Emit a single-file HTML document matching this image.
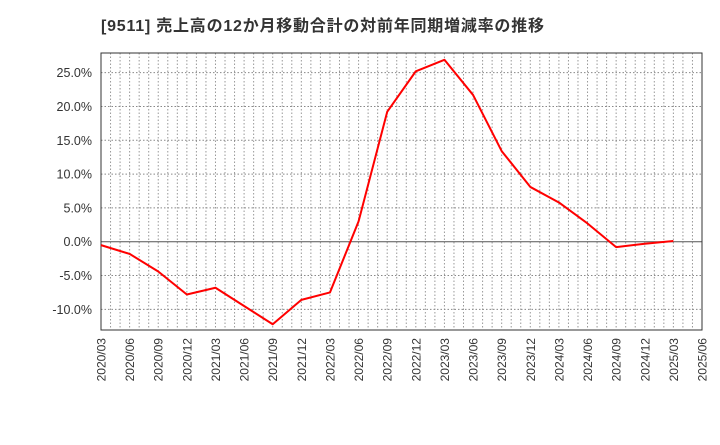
<!DOCTYPE html>
<html><head><meta charset="utf-8"><style>
body{margin:0;background:#fff;width:720px;height:440px;overflow:hidden;font-family:"Liberation Sans","Noto Sans CJK JP",sans-serif}
</style></head><body>
<svg id="c" width="720" height="440" xmlns="http://www.w3.org/2000/svg">
<text x="101" y="31" font-size="16" font-weight="bold" fill="#333" textLength="443" lengthAdjust="spacing" font-family="Liberation Sans,Noto Sans CJK JP,sans-serif">[9511]  売上高の12か月移動合計の対前年同期増減率の推移</text>
</svg>
<script>
const categories=["2020/03","2020/06","2020/09","2020/12","2021/03","2021/06","2021/09","2021/12","2022/03","2022/06","2022/09","2022/12","2023/03","2023/06","2023/09","2023/12","2024/03","2024/06","2024/09","2024/12","2025/03","2025/06"];
const values=[-0.5,-1.8,-4.4,-7.8,-6.8,-9.5,-12.2,-8.6,-7.5,3.0,19.2,25.2,26.9,21.7,13.4,8.1,5.8,2.7,-0.8,-0.3,0.1];
const yTicks=[-10,-5,0,5,10,15,20,25];
const L=101,R=702,T=53,B=330,yMin=-13.05,yMax=27.9;
const NS="http://www.w3.org/2000/svg",svg=document.getElementById('c');
const xs=i=>L+i*(R-L)/(categories.length-1);
const ys=v=>B-(v-yMin)/(yMax-yMin)*(B-T);
function mk(t,a){const e=document.createElementNS(NS,t);for(const k in a)e.setAttribute(k,a[k]);svg.appendChild(e);return e;}
for(let m=1;m<(categories.length-1)*3;m++){const x=L+m*(R-L)/((categories.length-1)*3);
const g=mk('line',{x1:x,x2:x,y1:T,y2:B,stroke:'#999','stroke-dasharray':'1.5,2','stroke-width':1});

}
yTicks.forEach(v=>{const y=ys(v);
const g=mk('line',{x1:L,x2:R,y1:y,y2:y,stroke:v===0?'#555':'#888','stroke-dasharray':v===0?'none':'1.5,2','stroke-width':1});


const t=mk('text',{x:92,y:y+4.5,'font-size':12.5,fill:'#333','text-anchor':'end'});t.textContent=v.toFixed(1)+'%';

});
const f=mk('rect',{x:L,y:T,width:R-L,height:B-T,fill:'none',stroke:'#333','stroke-width':1});


categories.forEach((c,i)=>{const x=xs(i);
const t=mk('text',{x:0,y:0,'font-size':12,fill:'#333','text-anchor':'end',transform:`translate(${x+4.5},${B+8}) rotate(-90)`});t.textContent=c;

});
const p=mk('polyline',{points:values.map((v,i)=>xs(i)+','+ys(v)).join(' '),fill:'none',stroke:'#f00','stroke-width':2,'stroke-linejoin':'round'});


</script>
</body></html>
